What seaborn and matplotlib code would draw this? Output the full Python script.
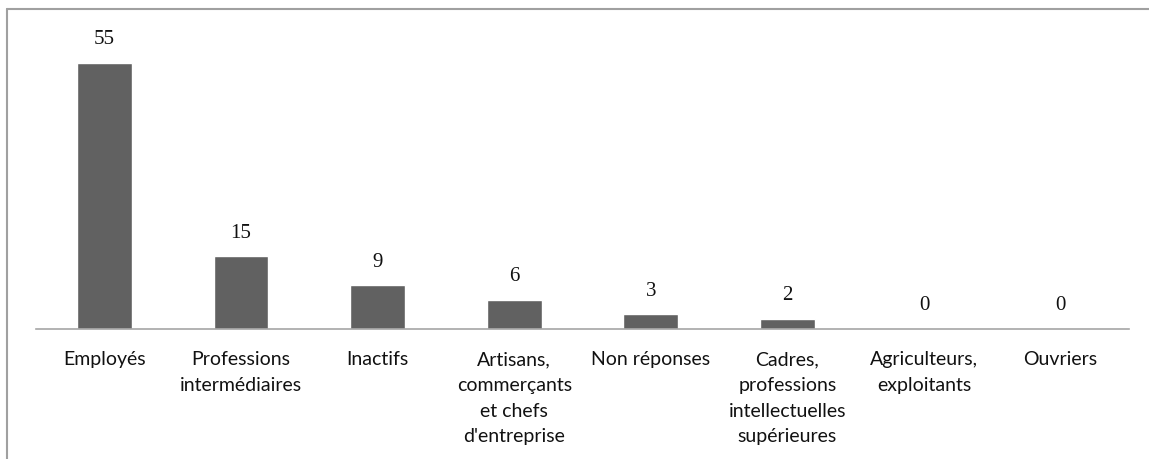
import matplotlib
matplotlib.use("Agg")
import matplotlib.pyplot as plt
from matplotlib.lines import Line2D
import seaborn as sns
import pandas as pd

categories = ["Employés", "Professions\nintermédiaires", "Inactifs",
              "Artisans,\ncommerçants\net chefs\nd'entreprise", "Non réponses",
              "Cadres,\nprofessions\nintellectuelles\nsupérieures",
              "Agriculteurs,\nexploitants", "Ouvriers"]
values = [55, 15, 9, 6, 3, 2, 0, 0]

df = pd.DataFrame({"cat": categories, "val": values})

sns.set_style("white")
W, H = 1149, 459
fig = plt.figure(figsize=(W / 100, H / 100), dpi=100)

# axes placed in pixel terms: baseline at y=329, x from 36 to 1129
ymax = 64
px_per_unit = 266 / 55
ax_h = ymax * px_per_unit
ax = fig.add_axes([36 / W, (H - 329) / H, (1129 - 36) / W, ax_h / H])

sns.barplot(data=df, x="cat", y="val", color="#616161", width=0.4,
            saturation=1, ax=ax)
ax.set_ylim(0, ymax)
ax.set_xlim(-0.5, len(categories) - 0.5)
ax.set_xlabel("")
ax.set_ylabel("")
ax.set_yticks([])
for s in ["top", "right", "left"]:
    ax.spines[s].set_visible(False)
ax.spines["bottom"].set_color("#a6a6a6")
ax.spines["bottom"].set_linewidth(1.2)
ax.tick_params(axis="x", length=0, pad=16)
for lab in ax.get_xticklabels():
    lab.set_fontfamily("Lato")
    lab.set_fontsize(14)
    lab.set_linespacing(1.62)
    lab.set_verticalalignment("top")
    lab.set_color("#111111")

ax.bar_label(ax.containers[0], labels=[str(v) for v in values], padding=10,
             fontfamily="Liberation Serif", fontsize=15, color="#111111")

# outer chart frame (cut at right and bottom)
fig.add_artist(Line2D([6.5 / W, 6.5 / W], [0, 1 - 9 / H], color="#a0a0a0", lw=1.5))
fig.add_artist(Line2D([6.5 / W, 1], [1 - 9 / H, 1 - 9 / H], color="#a0a0a0", lw=1.5))

fig.savefig("out.png", dpi=100)
